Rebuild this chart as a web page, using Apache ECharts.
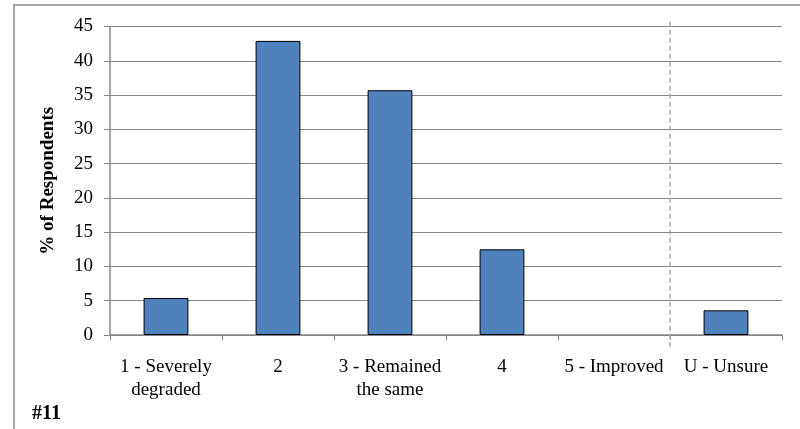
<!DOCTYPE html>
<html>
<head>
<meta charset="utf-8">
<script src="https://cdn.jsdelivr.net/npm/echarts@6/dist/echarts.min.js"></script>
<style>
  html, body { margin: 0; padding: 0; background: #fff; }
  #chart { width: 800px; height: 429px; }
</style>
</head>
<body>
<div id="chart"></div>
<script>
// Survey responses: perceived change in condition
const categories = ['1 - Severely\ndegraded', '2', '3 - Remained\nthe same', '4', '5 - Improved', 'U - Unsure'];
const percentValues = [5.4, 42.9, 35.7, 12.5, 0, 3.6];
const yTicks = [0, 5, 10, 15, 20, 25, 30, 35, 40, 45];

// Dashed divider between the rated answers and "Unsure" (in category units)
const dividerAt = 5;

const FONT = '"Liberation Serif", "Times New Roman", serif';
const chart = echarts.init(document.getElementById('chart'), null, { renderer: 'canvas' });

// Empty answers get no outline so nothing shows on the baseline
const barData = percentValues.map(v => ({
  value: v,
  itemStyle: v === 0 ? { borderWidth: 0 } : undefined
}));

chart.setOption({
  animation: false,
  backgroundColor: '#fff',
  grid: { left: 110, right: 18, top: 26.5, bottom: 94, containLabel: false },
  graphic: [
    {
      type: 'rect',
      shape: { x: 14, y: 5, width: 800, height: 440 },
      style: { fill: 'none', stroke: '#a6a6a6', lineWidth: 2 },
      silent: true
    },
    {
      type: 'text',
      left: 32, top: 404,
      style: { text: '#11', font: 'bold 20px ' + FONT, fill: '#000' }
    }
  ],
  xAxis: [
    {
      type: 'category',
      data: categories,
      axisLine: { lineStyle: { color: '#868686', width: 1.5 } },
      axisTick: { show: true, alignWithLabel: false, length: 5, lineStyle: { color: '#868686' } },
      axisLabel: { color: '#000', fontFamily: FONT, fontSize: 19, lineHeight: 23, margin: 21, interval: 0 }
    },
    {
      type: 'value', min: 0, max: categories.length, show: false
    }
  ],
  yAxis: {
    type: 'value',
    min: yTicks[0],
    max: yTicks[yTicks.length - 1],
    interval: 5,
    name: '% of Respondents',
    nameLocation: 'middle',
    nameGap: 52,
    nameTextStyle: { color: '#000', fontFamily: FONT, fontSize: 19, fontWeight: 'bold' },
    axisLine: { show: true, lineStyle: { color: '#868686', width: 1.5 } },
    axisTick: { show: true, length: 6, lineStyle: { color: '#868686' } },
    axisLabel: { color: '#000', fontFamily: FONT, fontSize: 19, margin: 17 },
    splitLine: { lineStyle: { color: '#868686', width: 1 } }
  },
  series: [
    {
      type: 'bar',
      data: barData,
      barWidth: '40%',
      itemStyle: { color: '#4f81bd', borderColor: '#000', borderWidth: 1 }
    },
    {
      type: 'line',
      xAxisIndex: 1,
      data: [[dividerAt, -1.7], [dividerAt, 45.7]],
      clip: false,
      symbol: 'none',
      silent: true,
      lineStyle: { color: '#a6a6a6', width: 1.5, type: [5, 3] },
      z: 1
    }
  ]
});
</script>
</body>
</html>
